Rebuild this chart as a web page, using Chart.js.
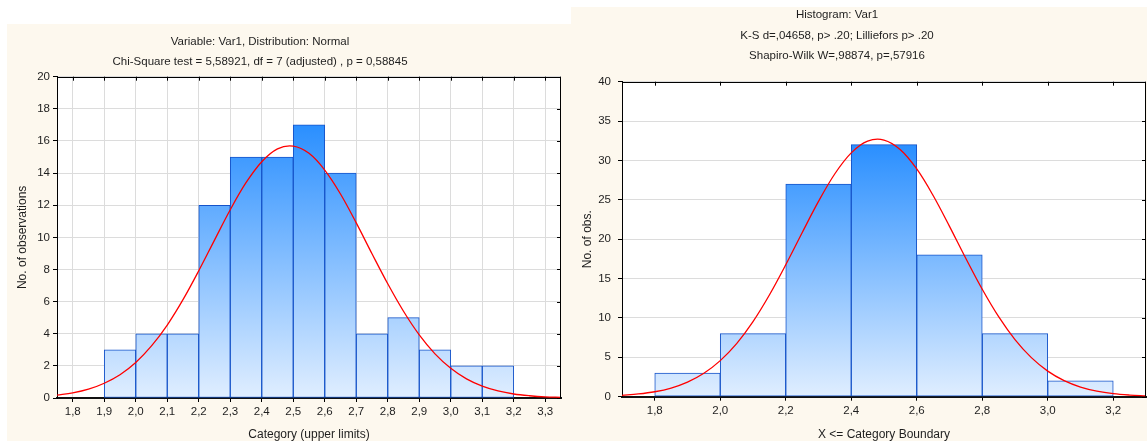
<!DOCTYPE html>
<html><head><meta charset="utf-8">
<script src="https://cdn.jsdelivr.net/npm/chart.js@4.4.1/dist/chart.umd.min.js"></script>
<style>
html,body{margin:0;padding:0;width:1147px;height:441px;overflow:hidden;background:#fff;position:relative}
.panel{position:absolute;background:#fdf8ee}
.wrap{position:absolute}
</style></head><body>
<div class="panel" style="left:7px;top:24px;width:564px;height:417px"></div>
<div class="panel" style="left:571px;top:7px;width:576px;height:434px"></div>
<div class="wrap" style="left:-41px;top:0;width:604px;height:444px"><canvas id="c1"></canvas></div>
<div class="wrap" style="left:528px;top:0;width:619px;height:444px"><canvas id="c2"></canvas></div>
<script>
// ---- Left chart data ----
const leftTitle = ['Variable: Var1, Distribution: Normal', 'Chi-Square test = 5,58921, df = 7 (adjusted) , p = 0,58845'];
const leftBinWidth = 0.1;
const leftUpper = [2.0, 2.1, 2.2, 2.3, 2.4, 2.5, 2.6, 2.7, 2.8, 2.9, 3.0, 3.1, 3.2];
const leftCounts = [3, 4, 4, 12, 15, 15, 17, 14, 4, 5, 3, 2, 2];
const leftXTicks = [1.8, 1.9, 2.0, 2.1, 2.2, 2.3, 2.4, 2.5, 2.6, 2.7, 2.8, 2.9, 3.0, 3.1, 3.2, 3.3];
const leftCurveX = [1.75, 1.80, 1.85, 1.90, 1.95, 2.00, 2.05, 2.10, 2.15, 2.20, 2.25, 2.30, 2.35, 2.40, 2.45, 2.50, 2.55, 2.60, 2.65, 2.70, 2.75, 2.80, 2.85, 2.90, 2.95, 3.00, 3.05, 3.10, 3.15, 3.20, 3.25, 3.30, 3.35];
const leftCurveY = [0.18, 0.32, 0.55, 0.92, 1.45, 2.21, 3.24, 4.54, 6.12, 7.92, 9.83, 11.72, 13.40, 14.71, 15.51, 15.68, 15.23, 14.19, 12.70, 10.90, 8.98, 7.11, 5.40, 3.93, 2.75, 1.85, 1.19, 0.74, 0.44, 0.25, 0.14, 0.07, 0.04];

// ---- Right chart data ----
const rightTitle = ['Histogram: Var1', 'K-S d=,04658, p> .20; Lilliefors p> .20', 'Shapiro-Wilk W=,98874, p=,57916'];
const rightBinWidth = 0.2;
const rightUpper = [2.0, 2.2, 2.4, 2.6, 2.8, 3.0, 3.2];
const rightCounts = [3, 8, 27, 32, 18, 8, 2];
const rightXTicks = [1.8, 2.0, 2.2, 2.4, 2.6, 2.8, 3.0, 3.2];
const rightCurveX = [1.70, 1.75, 1.80, 1.85, 1.90, 1.95, 2.00, 2.05, 2.10, 2.15, 2.20, 2.25, 2.30, 2.35, 2.40, 2.45, 2.50, 2.55, 2.60, 2.65, 2.70, 2.75, 2.80, 2.85, 2.90, 2.95, 3.00, 3.05, 3.10, 3.15, 3.20, 3.25, 3.30];
const rightCurveY = [0.18, 0.35, 0.63, 1.10, 1.85, 2.97, 4.58, 6.74, 9.53, 12.91, 16.75, 20.82, 24.80, 28.31, 30.96, 32.45, 32.59, 31.36, 28.92, 25.55, 21.63, 17.55, 13.64, 10.16, 7.25, 4.96, 3.25, 2.04, 1.23, 0.71, 0.39, 0.21, 0.10];

const FAMILY = '"Liberation Sans", Arial, sans-serif';
const TXT = '#1e1e1e';
const fmt = v => Number(v).toFixed(1).replace('.', ',');

const framePlugin = {
  id: 'frame',
  beforeDraw(chart) {
    const {ctx, chartArea: a} = chart;
    ctx.save();
    ctx.fillStyle = '#ffffff';
    ctx.fillRect(a.left, a.top, a.right - a.left, a.bottom - a.top);
    ctx.restore();
  },
  afterDraw(chart) {
    const {ctx, chartArea: a, scales: {x, y}} = chart;
    ctx.save();
    ctx.strokeStyle = '#000';
    ctx.lineWidth = 1;
    ctx.beginPath();
    ctx.moveTo(a.left, Math.round(a.top) + 0.5); ctx.lineTo(a.right, Math.round(a.top) + 0.5);
    ctx.moveTo(Math.round(a.right) - 0.5, a.top); ctx.lineTo(Math.round(a.right) - 0.5, a.bottom);
    x.ticks.forEach(t => {
      const px = Math.round(x.getPixelForValue(t.value)) + 0.5;
      ctx.moveTo(px, a.top); ctx.lineTo(px, a.top + 4);
    });
    y.ticks.forEach(t => {
      const py = Math.round(y.getPixelForValue(t.value)) + 0.5;
      ctx.moveTo(a.right, py); ctx.lineTo(a.right - 4, py);
    });
    ctx.stroke();
    ctx.restore();
  }
};

function makeChart(id, o) {
  const maxCount = Math.max(...o.counts);
  const gradient = (c) => {
    const chart = c.chart;
    if (!chart.chartArea) return '#8cc4ff';
    const ys = chart.scales.y;
    const g = chart.ctx.createLinearGradient(0, ys.getPixelForValue(maxCount), 0, ys.getPixelForValue(0));
    g.addColorStop(0, '#2a8fff');
    g.addColorStop(1, '#e0eeff');
    return g;
  };
  return new Chart(document.getElementById(id), {
    type: 'bar',
    data: {
      datasets: [
        {
          type: 'line',
          data: o.curveX.map((v, i) => ({x: v, y: o.curveY[i]})),
          borderColor: '#ff0000',
          borderWidth: 1.3,
          pointRadius: 0,
          tension: 0.35,
          fill: false,
          order: 0
        },
        {
          type: 'bar',
          data: o.upper.map((u, i) => ({x: u - o.binWidth / 2, y: o.counts[i]})),
          backgroundColor: gradient,
          borderColor: '#1553c9',
          borderWidth: 1,
          borderSkipped: false,
          barPercentage: 1,
          categoryPercentage: 1,
          order: 1
        }
      ]
    },
    options: {
      responsive: true,
      maintainAspectRatio: false,
      animation: false,
      events: [],
      layout: {padding: {left: 0, right: o.padRight, top: 0, bottom: 0}},
      plugins: {
        legend: {display: false},
        tooltip: {enabled: false},
        title: {
          display: true,
          text: o.title,
          color: TXT,
          font: {family: FAMILY, size: 11.5, weight: 'normal', lineHeight: o.titleLH / 11.5},
          padding: {top: o.titleTop, bottom: o.titleBottom}
        }
      },
      scales: {
        x: {
          type: 'linear',
          min: o.xMin, max: o.xMax,
          offset: false,
          afterBuildTicks: s => { s.ticks = o.xTicks.map(v => ({value: v})); },
          afterFit: s => { s.height = o.xAxisH; },
          ticks: {callback: v => fmt(v), color: TXT, font: {family: FAMILY, size: 11.5}, padding: 3, maxRotation: 0, autoSkip: false},
          grid: {color: '#dcdcdc', offset: false, drawOnChartArea: o.vGrid, tickColor: '#000', tickLength: 4},
          border: {color: '#111', width: 2},
          title: {display: true, text: o.xTitle, color: TXT, font: {family: FAMILY, size: 12}, padding: {top: 0, bottom: 2.4}}
        },
        y: {
          min: 0, max: o.yMax,
          afterFit: s => { s.width = o.yAxisW; },
          ticks: {stepSize: o.yStep, color: TXT, font: {family: FAMILY, size: 11.5}, padding: o.yTickPad},
          grid: {color: '#dcdcdc', tickColor: '#000', tickLength: 4},
          border: {color: '#000', width: 1},
          title: {display: true, text: o.yTitle, color: TXT, font: {family: FAMILY, size: 12}, padding: {top: o.yTitlePad, bottom: 0}}
        }
      }
    },
    plugins: [framePlugin]
  });
}

makeChart('c1', {
  title: leftTitle, titleLH: 20, titleTop: 32.3, titleBottom: 4.4,
  upper: leftUpper, counts: leftCounts, binWidth: leftBinWidth,
  curveX: leftCurveX, curveY: leftCurveY,
  xTicks: leftXTicks, xMin: 1.75, xMax: 3.35, vGrid: true,
  xTitle: 'Category (upper limits)', yTitle: 'No. of observations',
  yMax: 20, yStep: 2, yTickPad: 3,
  padRight: 2, xAxisH: 46, yAxisW: 98, yTitlePad: 56
});

makeChart('c2', {
  title: rightTitle, titleLH: 20.5, titleTop: 4.75, titleBottom: 15.45,
  upper: rightUpper, counts: rightCounts, binWidth: rightBinWidth,
  curveX: rightCurveX, curveY: rightCurveY,
  xTicks: rightXTicks, xMin: 1.7, xMax: 3.3, vGrid: false,
  xTitle: 'X <= Category Boundary', yTitle: 'No. of obs.',
  yMax: 40, yStep: 5, yTickPad: 7,
  padRight: 1, xAxisH: 47.3, yAxisW: 94, yTitlePad: 52
});
</script>
</body></html>
